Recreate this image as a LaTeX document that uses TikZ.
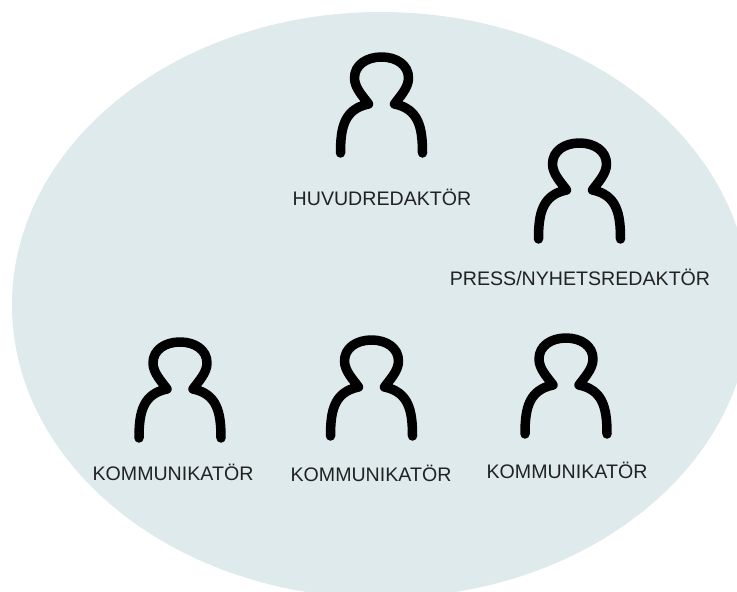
\documentclass[tikz,border=0pt]{standalone}
\usepackage{fontspec}
\setmainfont{Liberation Sans}
\definecolor{bubble}{HTML}{DFEAEC}
\definecolor{labeltext}{HTML}{222222}
\tikzset{
    person/.pic = {
        \draw[line width = 9.5pt, line cap = round, line join = round]
            (-41,48) .. controls (-41,22) and (-37,4) .. (-13,-1)
            .. controls (-18,-8) and (-27,-17) .. (-27,-27)
            .. controls (-27,-40) and (-15,-48) .. (0,-48)
            .. controls (15,-48) and (27,-40) .. (27,-27)
            .. controls (27,-17) and (18,-8) .. (13,-1)
            .. controls (37,4) and (41,22) .. (41,48);
    },
    role/.style = {font = \fontsize{19.6}{24}\selectfont, text = labeltext, inner sep = 0pt}
}
\begin{document}
\begin{tikzpicture}[x = 1pt, y = -1pt]
    \useasboundingbox (0,0) rectangle (737,592);
    \begin{scope}
        \clip (0,0) rectangle (737,592);
        \fill[bubble] (381,305) ellipse [x radius = 369pt, y radius = 293pt];
    \end{scope}
    \pic at (381.5,105) {person};
    \pic at (579.5,191) {person};
    \pic at (180,390) {person};
    \pic at (371.5,388) {person};
    \pic at (566,386) {person};
    \node[role] (chief) at (382,197) {HUVUDREDAKTÖR};
    \node[role] (press) at (580,277) {PRESS/NYHETSREDAKTÖR};
    \node[role] (commA) at (173,472) {KOMMUNIKATÖR};
    \node[role] (commB) at (371,473) {KOMMUNIKATÖR};
    \node[role] (commC) at (567,470) {KOMMUNIKATÖR};
\end{tikzpicture}
\end{document}
